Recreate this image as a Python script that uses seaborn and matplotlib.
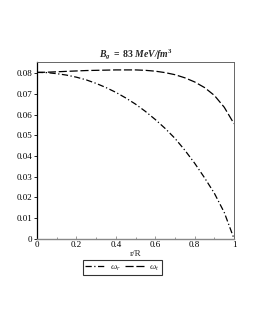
import matplotlib
matplotlib.use("Agg")
import matplotlib.pyplot as plt
import seaborn as sns
import pandas as pd
from matplotlib.ticker import FuncFormatter, MultipleLocator

r_over_R = [0.0, 0.05, 0.1, 0.15, 0.2, 0.25, 0.3, 0.35, 0.4, 0.45, 0.5,
            0.55, 0.6, 0.65, 0.7, 0.75, 0.8, 0.85, 0.9, 0.95, 1.0]
omega_r = [0.0803, 0.0802, 0.0797, 0.0790, 0.0780, 0.0767, 0.0750, 0.0730,
           0.0707, 0.0680, 0.0650, 0.0615, 0.0576, 0.0533, 0.0485, 0.0428,
           0.0365, 0.0295, 0.0220, 0.0128, 0.0]
omega_t = [0.0803, 0.0804, 0.0806, 0.0808, 0.0810, 0.0812, 0.0813, 0.0814,
           0.0815, 0.0815, 0.0815, 0.0813, 0.0809, 0.0802, 0.0792, 0.0777,
           0.0757, 0.0730, 0.0692, 0.0635, 0.0555]
series_labels = [r"$\omega_r$", r"$\omega_t$"]
title_text = (r"$\mathbfit{B}_{\mathbfit{g}}\ \mathbf{=\ 83}\ "
              r"\mathbfit{MeV/fm}^{\mathbf{3}}$")
x_label = "r/R"

sns.set_style("white")
plt.rcParams['font.family'] = ['Liberation Serif', 'DejaVu Serif']
plt.rcParams['mathtext.fontset'] = 'custom'
plt.rcParams['mathtext.rm'] = 'Liberation Serif'
plt.rcParams['mathtext.it'] = 'Liberation Serif:italic'
plt.rcParams['mathtext.bf'] = 'Liberation Serif:bold'
plt.rcParams['mathtext.bfit'] = 'Liberation Serif:italic:bold'

fig = plt.figure(figsize=(2.55, 3.30), dpi=100)
ax = fig.add_axes([0.145, 0.276, 0.773, 0.536])

df = pd.DataFrame({"x": r_over_R, "wr": omega_r, "wt": omega_t})
sns.lineplot(data=df, x="x", y="wr", ax=ax, color="black", lw=0.9,
             label=series_labels[0])
sns.lineplot(data=df, x="x", y="wt", ax=ax, color="black", lw=0.9,
             label=series_labels[1])
ax.lines[0].set_dashes((5, 2, 1, 2))
ax.lines[1].set_dashes((6.5, 2.2))

ax.set_xlim(0, 1)
ax.set_ylim(0, 0.0853)
ax.xaxis.set_major_locator(MultipleLocator(0.2))
ax.xaxis.set_minor_locator(MultipleLocator(0.1))
ax.yaxis.set_major_locator(MultipleLocator(0.01))
fmt = FuncFormatter(lambda v, p: "%g" % round(v, 4))
ax.xaxis.set_major_formatter(fmt)
ax.yaxis.set_major_formatter(fmt)
ax.tick_params(axis="both", labelsize=6.5, length=2, width=0.6, pad=1.5,
               direction="out", colors="black")
ax.tick_params(axis="x", which="both", direction="in", length=2, color="#888888")
ax.tick_params(axis="x", which="minor", length=1.5)
ax.tick_params(axis="y", left=True)
ax.tick_params(axis="x", bottom=True, which="both")

for s in ["top", "right"]:
    ax.spines[s].set_color("#666666")
    ax.spines[s].set_linewidth(0.7)
ax.spines["left"].set_color("black")
ax.spines["left"].set_linewidth(0.9)
ax.spines["bottom"].set_color("#888888")
ax.spines["bottom"].set_linewidth(1.0)

ax.set_xlabel(x_label, fontsize=6.5, labelpad=1)
ax.set_ylabel("")
ax.set_title(title_text, fontsize=7, pad=3)

ax.get_legend().remove()
handles, labels = ax.get_legend_handles_labels()
leg = fig.legend(handles, labels, loc="center", bbox_to_anchor=(0.48, 0.188),
                 ncol=2, fontsize=6.5, frameon=True, fancybox=False,
                 edgecolor="black", handlelength=2.3, columnspacing=0.5,
                 handletextpad=0.4, borderpad=0.3, borderaxespad=0)
leg.get_frame().set_linewidth(0.8)

fig.savefig("out.png", dpi=100)
